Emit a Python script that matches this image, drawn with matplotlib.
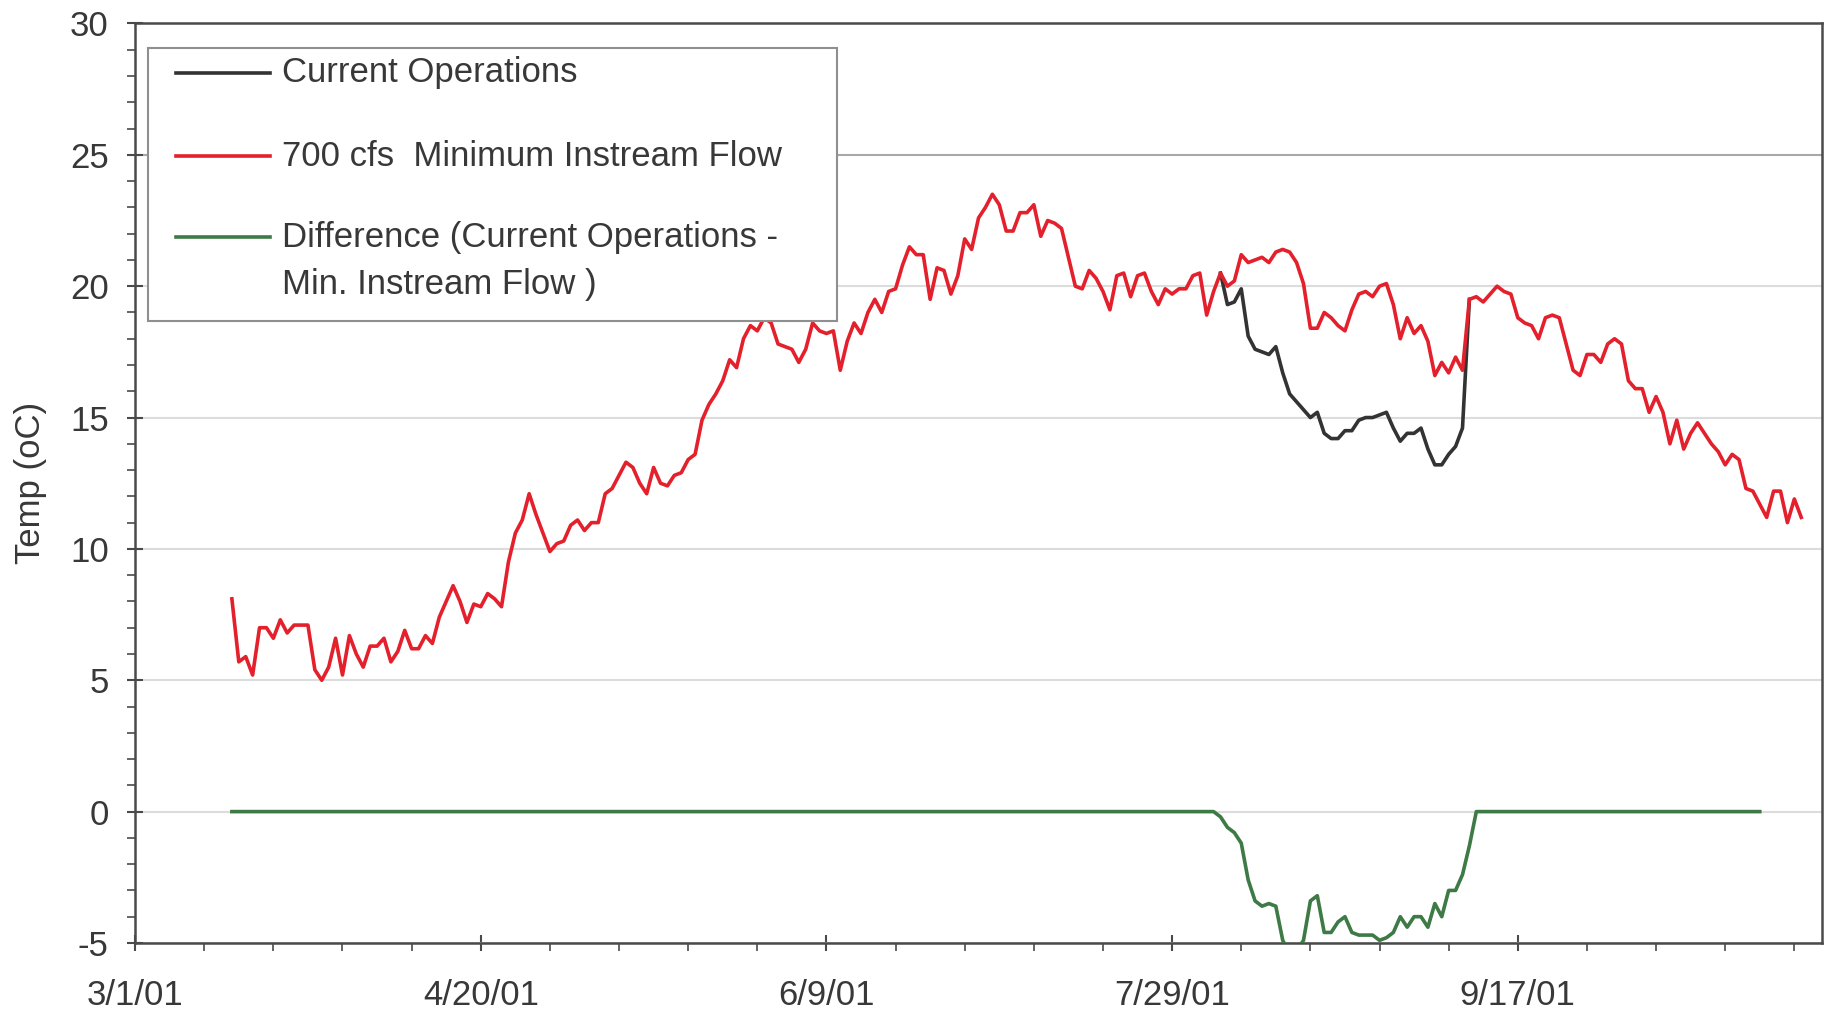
import matplotlib
matplotlib.use("Agg")
import matplotlib.pyplot as plt
from matplotlib.patches import Rectangle
from matplotlib.lines import Line2D
from matplotlib.ticker import MultipleLocator

plt.rcParams["font.family"] = ["Liberation Sans", "DejaVu Sans"]
plt.rcParams["axes.unicode_minus"] = False

# x values are days since 3/1/01
x_tick_days = [0, 50, 100, 150, 200]
x_tick_labels = ["3/1/01", "4/20/01", "6/9/01", "7/29/01", "9/17/01"]

# 700 cfs minimum instream flow, daily from 3/15/01
red_start = 14
red_vals = [
    8.1, 5.7, 5.9, 5.2, 7.0, 7.0, 6.6, 7.3, 6.8, 7.1,
    7.1, 7.1, 5.4, 5.0, 5.5, 6.6, 5.2, 6.7, 6.0, 5.5,
    6.3, 6.3, 6.6, 5.7, 6.1, 6.9, 6.2, 6.2, 6.7, 6.4,
    7.4, 8.0, 8.6, 8.0, 7.2, 7.9, 7.8, 8.3, 8.1, 7.8,
    9.5, 10.6, 11.1, 12.1, 11.3, 10.6, 9.9, 10.2, 10.3, 10.9,
    11.1, 10.7, 11.0, 11.0, 12.1, 12.3, 12.8, 13.3, 13.1, 12.5,
    12.1, 13.1, 12.5, 12.4, 12.8, 12.9, 13.4, 13.6, 14.9, 15.5,
    15.9, 16.4, 17.2, 16.9, 18.0, 18.5, 18.3, 18.8, 18.6, 17.8,
    17.7, 17.6, 17.1, 17.6, 18.6, 18.3, 18.2, 18.3, 16.8, 17.9,
    18.6, 18.2, 19.0, 19.5, 19.0, 19.8, 19.9, 20.8, 21.5, 21.2,
    21.2, 19.5, 20.7, 20.6, 19.7, 20.4, 21.8, 21.4, 22.6, 23.0,
    23.5, 23.1, 22.1, 22.1, 22.8, 22.8, 23.1, 21.9, 22.5, 22.4,
    22.2, 21.1, 20.0, 19.9, 20.6, 20.3, 19.8, 19.1, 20.4, 20.5,
    19.6, 20.4, 20.5, 19.8, 19.3, 19.9, 19.7, 19.9, 19.9, 20.4,
    20.5, 18.9, 19.8, 20.5, 20.0, 20.2, 21.2, 20.9, 21.0, 21.1,
    20.9, 21.3, 21.4, 21.3, 20.9, 20.1, 18.4, 18.4, 19.0, 18.8,
    18.5, 18.3, 19.1, 19.7, 19.8, 19.6, 20.0, 20.1, 19.3, 18.0,
    18.8, 18.2, 18.5, 17.9, 16.6, 17.1, 16.7, 17.3, 16.8, 19.5,
    19.6, 19.4, 19.7, 20.0, 19.8, 19.7, 18.8, 18.6, 18.5, 18.0,
    18.8, 18.9, 18.8, 17.8, 16.8, 16.6, 17.4, 17.4, 17.1, 17.8,
    18.0, 17.8, 16.4, 16.1, 16.1, 15.2, 15.8, 15.2, 14.0, 14.9,
    13.8, 14.4, 14.8, 14.4, 14.0, 13.7, 13.2, 13.6, 13.4, 12.3,
    12.2, 11.7, 11.2, 12.2, 12.2, 11.0, 11.9, 11.2,
]

# current operations, where it departs from the red line
black_start = 157
black_vals = [
    20.5, 19.3, 19.4, 19.9, 18.1, 17.6, 17.5, 17.4, 17.7, 16.7,
    15.9, 15.6, 15.3, 15.0, 15.2, 14.4, 14.2, 14.2, 14.5, 14.5,
    14.9, 15.0, 15.0, 15.1, 15.2, 14.6, 14.1, 14.4, 14.4, 14.6,
    13.8, 13.2, 13.2, 13.6, 13.9, 14.6, 19.5,
]

# difference (current operations - min. instream flow)
diff_days = [14, 156] + list(range(157, 195)) + [235]
diff_vals = [
    0.0, 0.0,
    -0.2, -0.6, -0.8, -1.2, -2.6, -3.4, -3.6, -3.5, -3.6, -4.9,
    -5.4, -5.3, -4.9, -3.4, -3.2, -4.6, -4.6, -4.2, -4.0, -4.6,
    -4.7, -4.7, -4.7, -4.9, -4.8, -4.6, -4.0, -4.4, -4.0, -4.0,
    -4.4, -3.5, -4.0, -3.0, -3.0, -2.4, -1.3, 0.0,
    0.0,
]

legend_labels = [
    "Current Operations",
    "700 cfs  Minimum Instream Flow",
    "Difference (Current Operations -\nMin. Instream Flow )",
]

red_color = "#e3202b"
black_color = "#333333"
green_color = "#3d7a45"
text_color = "#383838"
axis_color = "#4a4a4a"
lw = 2.6

red_days = list(range(red_start, red_start + len(red_vals)))
black_days = list(range(black_start, black_start + len(black_vals)))

fig = plt.figure(figsize=(18.43, 10.17), dpi=100)
ax = fig.add_axes([0.0733, 0.0728, 0.9153, 0.9041])

ax.plot(black_days, black_vals, color=black_color, lw=lw, zorder=3)
ax.plot(red_days, red_vals, color=red_color, lw=lw, zorder=4)
ax.plot(diff_days, diff_vals, color=green_color, lw=lw, zorder=3)

ax.set_xlim(0, 244)
ax.set_ylim(-5, 30)
ax.set_xticks(x_tick_days)
ax.set_xticklabels(x_tick_labels)
ax.xaxis.set_minor_locator(MultipleLocator(10))
ax.yaxis.set_major_locator(MultipleLocator(5))
ax.yaxis.set_minor_locator(MultipleLocator(1))

ax.yaxis.grid(True, color="#dcdcdc", lw=1.5)
ax.set_axisbelow(True)
for val, gl in zip(ax.get_yticks(), ax.get_ygridlines()):
    if val == 25:
        gl.set_color("#a8a8a8")

ax.tick_params(which="major", direction="inout", length=12, width=1.5,
               color=axis_color, labelsize=25, labelcolor=text_color)
ax.tick_params(which="minor", direction="out", length=6, width=1.2,
               color=axis_color)
ax.tick_params(axis="y", which="major", pad=13)
ax.tick_params(axis="x", which="major", pad=20)

for sp in ax.spines.values():
    sp.set_color(axis_color)
    sp.set_linewidth(1.8)

ax.set_ylabel("Temp (oC)", fontsize=25, color=text_color)
ax.yaxis.set_label_coords(-0.052, 0.5)

# legend box drawn by hand so the two-line entry lines up like the original
ax.add_patch(Rectangle((0.0077, 0.676), 0.4083, 0.297, transform=ax.transAxes,
                       facecolor="white", edgecolor="#8f8f8f", lw=1.5, zorder=10))
row_y = [0.9463, 0.8556, 0.7674]
line_gap = 0.0511
for label, color, y in zip(legend_labels, [black_color, red_color, green_color], row_y):
    ax.add_artist(Line2D([0.0243, 0.080], [y, y], transform=ax.transAxes,
                         color=color, lw=lw, zorder=11))
    for i, part in enumerate(label.split("\n")):
        ax.text(0.0871, y - i * line_gap, part, transform=ax.transAxes,
                va="center", ha="left", fontsize=25, color=text_color, zorder=11)

fig.savefig("out.png", dpi=100)
